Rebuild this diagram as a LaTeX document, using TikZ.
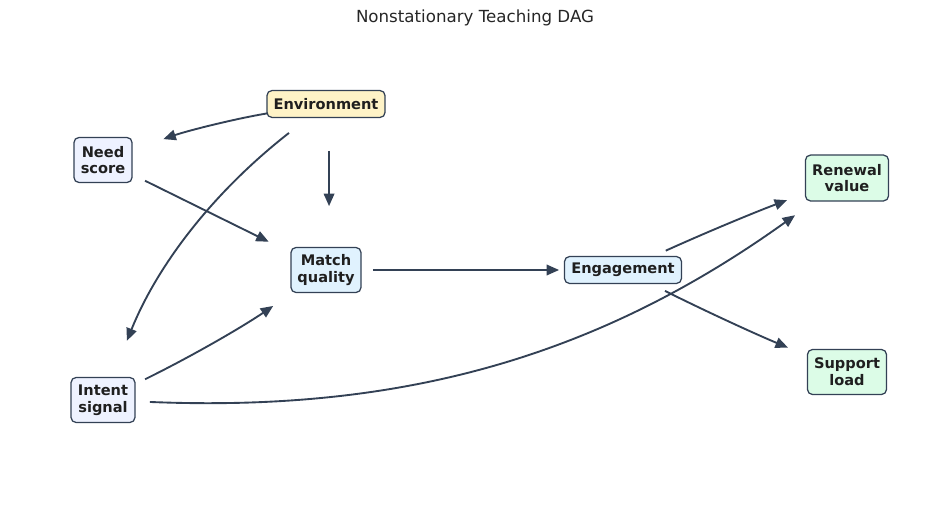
\documentclass[tikz,border=0pt]{standalone}
\usepackage{fontspec}
\setmainfont{DejaVu Sans}
\usetikzlibrary{arrows.meta}
\definecolor{edgec}{HTML}{334155}
\definecolor{textc}{HTML}{1F1F1F}
\definecolor{envfill}{HTML}{FEF3C7}
\definecolor{infill}{HTML}{EEF2FF}
\definecolor{midfill}{HTML}{E0F2FE}
\definecolor{outfill}{HTML}{DCFCE7}
\tikzset{
  box/.style={draw=edgec, line width=0.9pt, rounded corners=3.6pt, inner sep=1pt,
    align=center, text=textc, font=\fontsize{10.5}{12}\selectfont\bfseries},
  conn/.style={draw=edgec, line width=1.35pt, -{Triangle[length=9pt,width=7.6pt]},
    shorten <=33.8pt, shorten >=46pt},
}
\begin{document}
\begin{tikzpicture}[x=0.72pt, y=-0.72pt]
\useasboundingbox (0,0) rectangle (950,521);
\node[font=\fontsize{12}{14}\selectfont, text=black!85] (title) at (475,18) {Nonstationary Teaching DAG};
\node[box, fill=envfill, minimum width=85pt, minimum height=19.4pt] (env) at (326,104) {Environment};
\node[box, fill=infill, minimum width=41.8pt, minimum height=32.4pt] (need) at (103,160) {Need\\score};
\node[box, fill=infill, minimum width=46pt, minimum height=32.4pt] (intent) at (103,400) {Intent\\signal};
\node[box, fill=midfill, minimum width=50.4pt, minimum height=32.4pt] (match) at (326,270) {Match\\quality};
\node[box, fill=midfill, minimum width=84.2pt, minimum height=19.4pt] (eng) at (623,270) {Engagement};
\node[box, fill=outfill, minimum width=59.8pt, minimum height=33pt] (ren) at (847,178) {Renewal\\value};
\node[box, fill=outfill, minimum width=56.9pt, minimum height=32.4pt] (sup) at (847,372) {Support\\load};

\draw[conn, shorten <=42.5pt] (env.center) to[bend right=5] (need.center);
\draw[conn] (env.center) to[bend right=15] (intent.center);
\draw[conn] ([xshift=2.2pt]env.center) -- ([xshift=2.2pt]match.center);
\draw[conn] (need.center) -- (match.center);
\draw[conn] (intent.center) to[bend right=4] (match.center);
\draw[conn] (intent.center) to[bend right=19] (ren.center);
\draw[conn] (match.center) -- (eng.center);
\draw[conn] (eng.center) to[bend left=2] (ren.center);
\draw[conn] (eng.center) to[bend right=2] (sup.center);
\end{tikzpicture}
\end{document}
